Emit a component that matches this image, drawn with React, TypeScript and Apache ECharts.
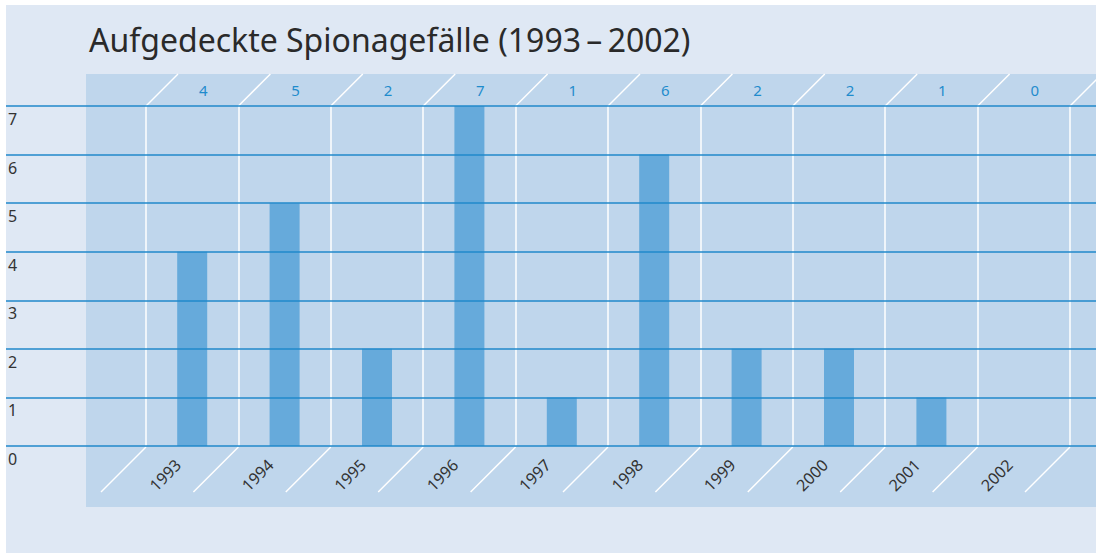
import React, { useEffect, useRef } from "react";
import * as echarts from "echarts";

const years = ["1993", "1994", "1995", "1996", "1997", "1998", "1999", "2000", "2001", "2002"];
const cases = [4, 5, 2, 7, 1, 6, 2, 2, 1, 0];
const yTicks = [0, 1, 2, 3, 4, 5, 6, 7];
const titleText = "Aufgedeckte Spionagefälle (1993\u2009\u2013\u20092002)";

const FONT = "'Noto Sans', 'Open Sans', sans-serif";
const BLUE_LINE = "#2189cb";
const LABEL_BLUE = "#1f8ccc";
const BAR = "#66aadb";
const PANEL = "#bfd6ec";
const OUTER = "#dfe8f4";

export default function App() {
  const ref = useRef<HTMLDivElement>(null);
  useEffect(() => {
    if (!ref.current) return;
    const chart = echarts.init(ref.current, undefined, { renderer: "svg" });
    const n = years.length;
    chart.setOption({
      animation: false,
      textStyle: { fontFamily: FONT },
      title: {
        text: titleText,
        left: 84,
        top: 18,
        textStyle: { fontFamily: FONT, fontSize: 32, fontWeight: "normal", color: "#2a2a2a" },
      },
      graphic: [
        { type: "rect", z: -10, silent: true, shape: { x: 6, y: 5, width: 1090, height: 548 }, style: { fill: OUTER } },
        { type: "rect", z: -9, silent: true, shape: { x: 86, y: 74, width: 1010, height: 433 }, style: { fill: PANEL } },
      ],
      grid: [
        { left: 6, right: 0, top: 106, bottom: 107 },
        { left: 146, right: 26, top: 106, bottom: 107 },
      ],
      xAxis: [
        { gridIndex: 0, type: "value", show: false, min: 0, max: 1 },
        {
          gridIndex: 1,
          type: "category",
          data: years,
          boundaryGap: true,
          axisLine: { show: false },
          axisTick: { show: false },
          splitLine: { show: true, lineStyle: { color: "#ffffff", width: 1.5 } },
          axisLabel: {
            rotate: 45,
            margin: 2,
            padding: [0, 20, 0, 0],
            color: "#333333",
            fontSize: 16,
            fontFamily: FONT,
          },
        },
      ],
      yAxis: [
        {
          gridIndex: 0,
          type: "value",
          min: yTicks[0],
          max: yTicks[yTicks.length - 1],
          interval: 1,
          z: 5,
          axisLine: { show: false },
          axisTick: { show: false },
          splitLine: { show: true, lineStyle: { color: BLUE_LINE, width: 1.6 } },
          axisLabel: {
            inside: true,
            margin: 2,
            align: "left",
            verticalAlign: "top",
            padding: [5, 0, 0, 0],
            color: "#333333",
            fontSize: 16,
            fontFamily: FONT,
          },
        },
        {
          gridIndex: 1,
          type: "value",
          min: yTicks[0],
          max: yTicks[yTicks.length - 1],
          interval: 1,
          show: false,
          splitLine: { show: false },
        },
      ],
      series: [
        {
          type: "bar",
          xAxisIndex: 1,
          yAxisIndex: 1,
          data: cases,
          barWidth: 30,
          itemStyle: { color: BAR },
          z: 2,
        },
        {
          type: "custom",
          xAxisIndex: 1,
          yAxisIndex: 1,
          clip: false,
          silent: true,
          z: 3,
          data: cases.map((v, i) => [i, v]),
          renderItem: (params: any, api: any) => {
            const i = api.value(0);
            const v = api.value(1);
            const base = api.coord([i, 0]);
            const topPt = api.coord([i, yTicks[yTicks.length - 1]]);
            const w = api.size([1, 0])[0];
            const cx = base[0];
            const yb = base[1];
            const yt = topPt[1];
            const bounds = [cx - w / 2];
            if (i === n - 1) bounds.push(cx + w / 2);
            const children: any[] = [];
            bounds.forEach((bx) => {
              children.push({
                type: "line",
                shape: { x1: bx, y1: yt, x2: bx + 32, y2: yt - 32 },
                style: { stroke: "#ffffff", lineWidth: 1.5 },
              });
              children.push({
                type: "line",
                shape: { x1: bx, y1: yb + 1, x2: bx - 45, y2: yb + 46 },
                style: { stroke: "#ffffff", lineWidth: 1.5 },
              });
            });
            children.push({
              type: "text",
              x: cx + 11,
              y: yt - 16,
              style: {
                text: String(v),
                fill: LABEL_BLUE,
                fontSize: 15,
                fontFamily: FONT,
                align: "center",
                verticalAlign: "middle",
              },
            });
            return { type: "group", children };
          },
        },
      ],
    });
    return () => chart.dispose();
  }, []);
  return (
    <div
      ref={ref}
      style={{ position: "absolute", left: 0, top: 0, width: 1096, height: 553, background: "#ffffff" }}
    />
  );
}
